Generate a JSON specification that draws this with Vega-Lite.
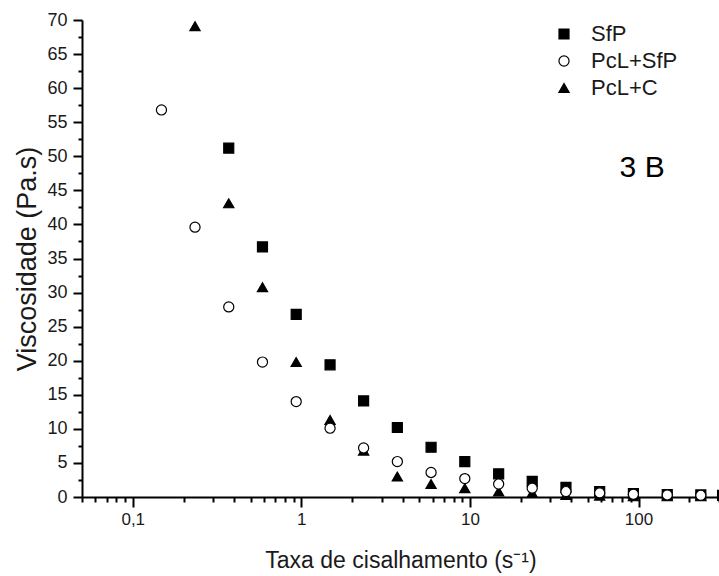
{
  "$schema": "https://vega.github.io/schema/vega-lite/v6.json",
  "width": 637,
  "height": 477,
  "autosize": {"type": "none"},
  "padding": {"left": 82, "top": 20, "right": 0, "bottom": 79},
  "background": "white",
  "config": {
    "view": {"stroke": null},
    "font": "Liberation Sans"
  },
  "resolve": {"axis": {"x": "independent", "y": "independent"}},
  "layer": [
    {
      "data": {
        "values": [
          {"series": "PcL+C", "rate": 0.234, "visc": 69.1},
          {"series": "PcL+C", "rate": 0.371, "visc": 43.1},
          {"series": "PcL+C", "rate": 0.588, "visc": 30.8},
          {"series": "PcL+C", "rate": 0.932, "visc": 19.8},
          {"series": "PcL+C", "rate": 1.48, "visc": 11.3},
          {"series": "PcL+C", "rate": 2.34, "visc": 6.8},
          {"series": "PcL+C", "rate": 3.71, "visc": 3.0},
          {"series": "PcL+C", "rate": 5.88, "visc": 1.9},
          {"series": "PcL+C", "rate": 9.32, "visc": 1.3},
          {"series": "PcL+C", "rate": 14.8, "visc": 0.8},
          {"series": "PcL+C", "rate": 23.4, "visc": 0.6},
          {"series": "PcL+C", "rate": 37.1, "visc": 0.3},
          {"series": "PcL+C", "rate": 58.8, "visc": 0.2},
          {"series": "PcL+C", "rate": 93.2, "visc": 0.1},
          {"series": "PcL+C", "rate": 148, "visc": 0.1},
          {"series": "PcL+C", "rate": 234, "visc": 0.1},
          {"series": "SfP", "rate": 0.371, "visc": 51.2},
          {"series": "SfP", "rate": 0.588, "visc": 36.7},
          {"series": "SfP", "rate": 0.932, "visc": 26.8},
          {"series": "SfP", "rate": 1.48, "visc": 19.4},
          {"series": "SfP", "rate": 2.34, "visc": 14.1},
          {"series": "SfP", "rate": 3.71, "visc": 10.2},
          {"series": "SfP", "rate": 5.88, "visc": 7.3},
          {"series": "SfP", "rate": 9.32, "visc": 5.2},
          {"series": "SfP", "rate": 14.8, "visc": 3.4},
          {"series": "SfP", "rate": 23.4, "visc": 2.3},
          {"series": "SfP", "rate": 37.1, "visc": 1.4},
          {"series": "SfP", "rate": 58.8, "visc": 0.8},
          {"series": "SfP", "rate": 93.2, "visc": 0.5},
          {"series": "SfP", "rate": 148, "visc": 0.35},
          {"series": "SfP", "rate": 234, "visc": 0.3},
          {"series": "SfP", "rate": 315, "visc": 0.25},
          {"series": "PcL+SfP", "rate": 0.148, "visc": 56.8},
          {"series": "PcL+SfP", "rate": 0.234, "visc": 39.6},
          {"series": "PcL+SfP", "rate": 0.371, "visc": 27.9},
          {"series": "PcL+SfP", "rate": 0.588, "visc": 19.8},
          {"series": "PcL+SfP", "rate": 0.932, "visc": 14.0},
          {"series": "PcL+SfP", "rate": 1.48, "visc": 10.1},
          {"series": "PcL+SfP", "rate": 2.34, "visc": 7.2},
          {"series": "PcL+SfP", "rate": 3.71, "visc": 5.2},
          {"series": "PcL+SfP", "rate": 5.88, "visc": 3.6},
          {"series": "PcL+SfP", "rate": 9.32, "visc": 2.7},
          {"series": "PcL+SfP", "rate": 14.8, "visc": 1.9},
          {"series": "PcL+SfP", "rate": 23.4, "visc": 1.3},
          {"series": "PcL+SfP", "rate": 37.1, "visc": 0.8},
          {"series": "PcL+SfP", "rate": 58.8, "visc": 0.6},
          {"series": "PcL+SfP", "rate": 93.2, "visc": 0.4},
          {"series": "PcL+SfP", "rate": 148, "visc": 0.3},
          {"series": "PcL+SfP", "rate": 234, "visc": 0.25}
        ]
      },
      "mark": {"type": "point", "filled": true, "stroke": "black", "strokeWidth": 1.2, "opacity": 1},
      "encoding": {
        "x": {
          "field": "rate",
          "type": "quantitative",
          "scale": {"type": "log", "domain": [0.05, 300], "nice": false},
          "axis": {
            "orient": "bottom",
            "title": "Taxa de cisalhamento (s⁻¹)",
            "grid": false,
            "ticks": true,
            "domainColor": "black",
            "domainWidth": 2,
            "tickColor": "black",
            "tickWidth": 2,
            "tickSize": 10,
            "labelFontSize": 17,
            "labelColor": "#1a1a1a",
            "labelFont": "Liberation Sans",
            "labelOverlap": false,
            "labelFlush": false,
            "titleFont": "Liberation Sans",
            "titleFontSize": 23,
            "titleFontWeight": "normal",
            "titleColor": "#1a1a1a",
            "values": [0.1, 1, 10, 100],
            "labelExpr": "datum.value == 0.1 ? '0,1' : format(datum.value, 'd')",
            "labelPadding": 4,
            "titlePadding": 22
          }
        },
        "y": {
          "field": "visc",
          "type": "quantitative",
          "scale": {"domain": [0, 70], "nice": false},
          "axis": {
            "orient": "left",
            "title": "Viscosidade (Pa.s)",
            "grid": false,
            "ticks": true,
            "domainColor": "black",
            "domainWidth": 2,
            "tickColor": "black",
            "tickWidth": 2,
            "tickSize": 9,
            "labelFontSize": 18,
            "labelColor": "#1a1a1a",
            "labelFont": "Liberation Sans",
            "labelOverlap": false,
            "labelFlush": false,
            "titleFont": "Liberation Sans",
            "titleFontSize": 27,
            "titleFontWeight": "normal",
            "titleColor": "#1a1a1a",
            "values": [0, 5, 10, 15, 20, 25, 30, 35, 40, 45, 50, 55, 60, 65, 70],
            "labelExpr": "format(datum.value, 'd')",
            "labelPadding": 6,
            "titlePadding": 5
          }
        },
        "shape": {
          "field": "series",
          "type": "nominal",
          "scale": {"domain": ["SfP", "PcL+SfP", "PcL+C"], "range": ["square", "circle", "triangle-up"]},
          "legend": {
            "title": null,
            "orient": "none",
            "legendX": 471,
            "legendY": 3,
            "padding": 0,
            "labelFontSize": 22,
            "labelColor": "#1a1a1a",
            "labelFont": "Liberation Sans",
            "symbolStrokeWidth": 1.2,
            "rowPadding": 5,
            "labelOffset": 16
          }
        },
        "size": {
          "field": "series",
          "type": "nominal",
          "scale": {"domain": ["SfP", "PcL+SfP", "PcL+C"], "range": [100, 105, 130]},
          "legend": {
            "title": null,
            "orient": "none",
            "legendX": 471,
            "legendY": 3,
            "padding": 0,
            "labelFontSize": 22,
            "labelColor": "#1a1a1a",
            "labelFont": "Liberation Sans",
            "symbolStrokeWidth": 1.2,
            "rowPadding": 5,
            "labelOffset": 16
          }
        },
        "fill": {
          "field": "series",
          "type": "nominal",
          "scale": {"domain": ["SfP", "PcL+SfP", "PcL+C"], "range": ["black", "white", "black"]},
          "legend": {
            "title": null,
            "orient": "none",
            "legendX": 471,
            "legendY": 3,
            "padding": 0,
            "labelFontSize": 22,
            "labelColor": "#1a1a1a",
            "labelFont": "Liberation Sans",
            "symbolStrokeWidth": 1.2,
            "rowPadding": 5,
            "labelOffset": 16
          }
        },
        "stroke": {
          "field": "series",
          "type": "nominal",
          "scale": {"domain": ["SfP", "PcL+SfP", "PcL+C"], "range": ["black", "black", "black"]},
          "legend": {
            "title": null,
            "orient": "none",
            "legendX": 471,
            "legendY": 3,
            "padding": 0,
            "labelFontSize": 22,
            "labelColor": "#1a1a1a",
            "labelFont": "Liberation Sans",
            "symbolStrokeWidth": 1.2,
            "rowPadding": 5,
            "labelOffset": 16
          }
        }
      }
    },
    {
      "data": {"values": [{"rate": 105, "visc": 48.3, "label": "3 B"}]},
      "mark": {"type": "text", "fontSize": 30, "font": "Liberation Sans", "color": "black", "align": "center", "baseline": "middle"},
      "encoding": {
        "x": {
          "field": "rate",
          "type": "quantitative",
          "axis": {
            "orient": "bottom",
            "title": null,
            "grid": false,
            "domain": false,
            "labels": false,
            "ticks": true,
            "tickColor": "black",
            "tickWidth": 2,
            "tickSize": 5,
            "values": [0.05, 0.06, 0.07, 0.08, 0.09, 0.2, 0.3, 0.4, 0.5, 0.6, 0.7, 0.8, 0.9, 2, 3, 4, 5, 6, 7, 8, 9, 20, 30, 40, 50, 60, 70, 80, 90, 200, 300]
          }
        },
        "y": {
          "field": "visc",
          "type": "quantitative",
          "axis": {
            "orient": "left",
            "title": null,
            "grid": false,
            "domain": false,
            "labels": false,
            "ticks": true,
            "tickColor": "black",
            "tickWidth": 2,
            "tickSize": 4,
            "values": [2.5, 7.5, 12.5, 17.5, 22.5, 27.5, 32.5, 37.5, 42.5, 47.5, 52.5, 57.5, 62.5, 67.5]
          }
        },
        "text": {"field": "label"}
      }
    }
  ]
}
